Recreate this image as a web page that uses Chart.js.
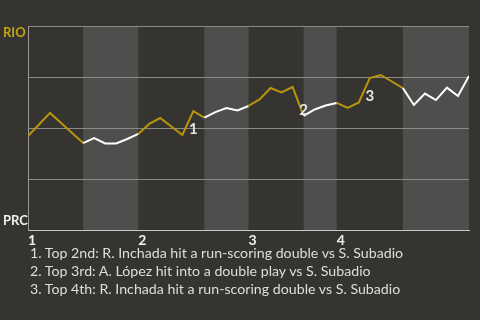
<!DOCTYPE html>
<html><head><meta charset="utf-8">
<script src="https://cdn.jsdelivr.net/npm/chart.js@4.4.0/dist/chart.umd.min.js"></script>
<style>
html,body{margin:0;padding:0;background:#353431;}
#wrap{position:relative;width:480px;height:320px;overflow:hidden;}
canvas{display:block;}
#notes{position:absolute;left:30px;top:244px;font:14.2px Lato, sans-serif;color:#dedede;line-height:18px;white-space:nowrap;}
</style></head><body>
<div id="wrap"><canvas id="c" width="480" height="320"></canvas>
<div id="notes"></div></div>
<script>
// plate appearance index (x) and RIO win probability (%)
const plateAppearance = [0,1,2,3,4,5,6,7,8,9,10,11,12,13,14,15,16,17,18,19,20,21,22,23,24,25,26,27,28,29,30,31,32,33,34,35,36,37,38,39,40];
const rioWinProb = [46.1,51.7,57.4,52.5,47.5,42.6,45.1,42.4,42.4,44.6,47.1,52.0,54.9,50.7,46.6,58.3,55.1,57.8,59.8,58.6,60.8,64.0,69.6,67.4,70.1,55.9,59.1,61.0,62.3,59.8,62.5,74.5,76.0,72.8,69.6,61.3,66.9,63.7,69.8,65.7,75.5];
// half-inning boundaries (plate appearance index)
const halfInningStarts = [0,5,10,16,20,25,28,34,40];
const inningStarts = [0,10,20,28];
const inningLabels = ['1','2','3','4'];
const yTickValues = [0,4.4,25,50,75,96.6,100];
const yTickLabels = ['','PRC','','','','RIO',''];
const eventIndex = [15,25,31];
const eventLabels = ['1','2','3'];
const notes = [
  '1. Top 2nd: R. Inchada hit a run-scoring double vs S. Subadio',
  '2. Top 3rd: A. López hit into a double play vs S. Subadio',
  '3. Top 4th: R. Inchada hit a run-scoring double vs S. Subadio'
];

const GOLD = '#b8960c';
const WHITE = '#ffffff';
const FONT = 'Lato, sans-serif';

document.getElementById('notes').innerHTML = notes.map(t => '<div>' + t + '</div>').join('');

function isTopHalf(x) {
  for (let k = 0; k < halfInningStarts.length - 1; k++) {
    if (x >= halfInningStarts[k] && x < halfInningStarts[k + 1]) return k % 2 === 0;
  }
  return false;
}

const bandsPlugin = {
  id: 'bands',
  beforeDraw(chart) {
    const {ctx, chartArea, scales} = chart;
    ctx.save();
    for (let k = 0; k < halfInningStarts.length - 1; k++) {
      if (k % 2 === 1) {
        const x0 = scales.x.getPixelForValue(halfInningStarts[k]);
        const x1 = scales.x.getPixelForValue(halfInningStarts[k + 1]);
        ctx.fillStyle = '#4f4e4c';
        ctx.fillRect(x0, chartArea.top, x1 - x0, chartArea.bottom - chartArea.top);
      }
    }
    ctx.restore();
  }
};

const eventsPlugin = {
  id: 'events',
  afterDatasetsDraw(chart) {
    const {ctx, scales} = chart;
    ctx.save();
    ctx.font = 'bold 15px ' + FONT;
    ctx.fillStyle = '#e6e6e6';
    ctx.textAlign = 'center';
    ctx.textBaseline = 'middle';
    eventIndex.forEach((idx, k) => {
      const px = scales.x.getPixelForValue(plateAppearance[idx]);
      const low = Math.min(rioWinProb[idx - 1], rioWinProb[idx]);
      const py = scales.y.getPixelForValue(low) - 6;
      ctx.fillText(eventLabels[k], px, py);
    });
    ctx.restore();
  }
};

new Chart(document.getElementById('c'), {
  type: 'line',
  data: {
    datasets: [{
      data: plateAppearance.map((x, i) => ({x: x, y: rioWinProb[i]})),
      borderColor: GOLD,
      borderWidth: 2,
      pointRadius: 0,
      tension: 0,
      segment: {
        borderColor: c => isTopHalf(c.p0.parsed.x) ? GOLD : WHITE
      }
    }]
  },
  options: {
    responsive: false,
    animation: false,
    devicePixelRatio: 1,
    layout: {padding: {left: 3, right: 11, top: 26, bottom: 70}},
    plugins: {legend: {display: false}, tooltip: {enabled: false}, title: {display: false}},
    scales: {
      x: {
        type: 'linear', min: 0, max: 40,
        afterBuildTicks: s => { s.ticks = inningStarts.map(v => ({value: v})); },
        afterFit: s => { s.height = 20; },
        grid: {display: true, drawOnChartArea: false, drawTicks: false, tickLength: 0},
        border: {display: true, color: '#c8c8c8', width: 1},
        ticks: {
          align: 'start', padding: 2, color: '#f0f0f0', autoSkip: false, maxRotation: 0,
          font: {family: FONT, size: 14, weight: 'bold'},
          callback: v => inningLabels[inningStarts.indexOf(v)]
        }
      },
      y: {
        min: 0, max: 100,
        afterBuildTicks: s => { s.ticks = yTickValues.map(v => ({value: v})); },
        afterFit: s => { s.width = 25; },
        grid: {
          drawTicks: false, tickLength: 0, lineWidth: 1,
          color: c => (c.tick && yTickLabels[yTickValues.indexOf(c.tick.value)] === '' && c.tick.value !== 0) ? '#8a8a88' : 'rgba(0,0,0,0)'
        },
        border: {display: true, color: '#9a9a98', width: 1},
        ticks: {
          crossAlign: 'far', padding: 0, autoSkip: false,
          font: {family: FONT, size: 13, weight: 'bold'},
          color: c => (c.tick && yTickLabels[yTickValues.indexOf(c.tick.value)] === 'RIO') ? '#c4a214' : '#f0f0f0',
          callback: v => yTickLabels[yTickValues.indexOf(v)]
        }
      }
    }
  },
  plugins: [bandsPlugin, eventsPlugin]
});
</script>
</body></html>
